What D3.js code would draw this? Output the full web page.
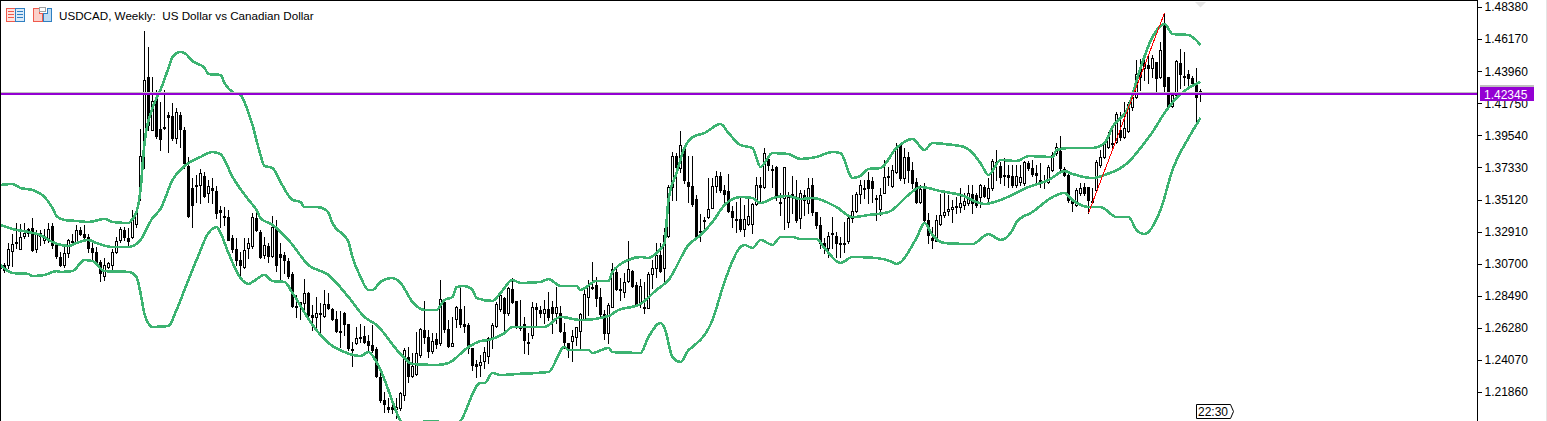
<!DOCTYPE html>
<html><head><meta charset="utf-8">
<script src="https://cdn.jsdelivr.net/npm/d3@7/dist/d3.min.js"></script>
<style>html,body{margin:0;padding:0;background:#fff;overflow:hidden}svg{display:block}text{font-family:"Liberation Sans",Arial,sans-serif}</style>
</head><body><div id="c"></div>
<script>
const title = "USDCAD, Weekly:  US Dollar vs Canadian Dollar";
const tickLabels = [1.4838,1.4617,1.4396,1.4175,1.3954,1.3733,1.3512,1.3291,1.3070,1.2849,1.2628,1.2407,1.2186];
const bidPrice = 1.42345, askPrice = 1.42385;
const bidLabel = "1.42345", timeLabel = "22:30";

const highs = [
1.3081,1.3074,1.3212,1.3274,1.3350,1.3343,1.3350,1.3316,1.3384,1.3302,
1.3302,1.3309,1.3350,1.3350,1.3219,1.3150,1.3185,1.3240,1.3274,1.3337,
1.3322,1.3337,1.3274,1.3212,1.3185,1.3095,1.3109,1.3081,1.3171,1.3254,
1.3322,1.3322,1.3316,1.3440,1.3453,1.3998,1.4673,1.4562,1.4356,1.4266,
1.4184,1.4266,1.4115,1.4177,1.4142,1.4115,1.4011,1.3805,1.3660,1.3681,
1.3722,1.3701,1.3646,1.3660,1.3605,1.3467,1.3460,1.3440,1.3267,1.3247,
1.3150,1.3247,1.3247,1.3419,1.3440,1.3302,1.3254,1.3212,1.3398,1.3371,
1.3212,1.3150,1.3109,1.3013,1.2854,1.2799,1.2964,1.2875,1.2785,1.2840,
1.2799,1.2889,1.2868,1.2765,1.2744,1.2744,1.2737,1.2654,1.2530,1.2634,
1.2654,1.2641,1.2578,1.2648,1.2496,1.2358,1.2186,1.2145,1.2117,1.2145,
1.2186,1.2489,1.2496,1.2455,1.2599,1.2627,1.2813,1.2613,1.2592,1.2592,
1.2957,1.2820,1.2682,1.2703,1.2778,1.2902,1.2778,1.2661,1.2489,1.2406,
1.2441,1.2496,1.2565,1.2661,1.2806,1.2868,1.2840,1.2909,1.2971,1.2813,
1.2820,1.2703,1.2592,1.2806,1.2799,1.2778,1.2820,1.2875,1.2813,1.2909,
1.2778,1.2661,1.2523,1.2613,1.2627,1.2730,1.2889,1.2957,1.3081,1.2978,
1.2902,1.2751,1.2799,1.3074,1.3040,1.2971,1.3006,1.3226,1.3026,1.2944,
1.2964,1.2944,1.3013,1.3095,1.3212,1.3212,1.3316,1.3612,1.3839,1.3832,
1.3984,1.3887,1.3812,1.3812,1.3543,1.3412,1.3391,1.3660,1.3660,1.3708,
1.3701,1.3612,1.3688,1.3467,1.3495,1.3522,1.3474,1.3529,1.3488,1.3667,
1.3667,1.3867,1.3819,1.3750,1.3743,1.3557,1.3557,1.3564,1.3674,1.3646,
1.3577,1.3577,1.3660,1.3660,1.3426,1.3391,1.3247,1.3288,1.3391,1.3288,
1.3254,1.3357,1.3391,1.3543,1.3564,1.3646,1.3646,1.3701,1.3667,1.3543,
1.3591,1.3784,1.3736,1.3750,1.3901,1.3901,1.3867,1.3839,1.3770,1.3660,
1.3612,1.3626,1.3419,1.3322,1.3405,1.3550,1.3557,1.3543,1.3509,1.3529,
1.3591,1.3557,1.3612,1.3612,1.3557,1.3619,1.3612,1.3660,1.3791,1.3853,
1.3770,1.3798,1.3750,1.3750,1.3750,1.3750,1.3777,1.3777,1.3784,1.3750,
1.3763,1.3681,1.3750,1.3839,1.3901,1.3949,1.3736,1.3695,1.3522,1.3591,
1.3626,1.3626,1.3577,1.3591,1.3784,1.3853,1.3908,1.3977,1.4025,1.4115,
1.4115,1.4184,1.4184,1.4246,1.4473,1.4480,1.4473,1.4507,1.4507,1.4459,
1.4597,1.4797,1.4356,1.4246,1.4473,1.4548,1.4528,1.4404,1.4363,1.4418,1.4273];

const lows = [
1.3026,1.3013,1.3040,1.3054,1.3178,1.3185,1.3247,1.3261,1.3157,1.3150,
1.3198,1.3212,1.3219,1.3178,1.3109,1.3054,1.3047,1.3116,1.3212,1.3212,
1.3267,1.3233,1.3150,1.3095,1.3074,1.2950,1.2957,1.3040,1.3033,1.3143,
1.3219,1.3233,1.3198,1.3247,1.3322,1.3509,1.3729,1.3991,1.3998,1.3936,
1.3853,1.3998,1.3839,1.3922,1.3901,1.3874,1.3729,1.3391,1.3322,1.3495,
1.3488,1.3529,1.3495,1.3488,1.3384,1.3322,1.3337,1.3247,1.3150,1.3061,
1.2992,1.3040,1.3109,1.3178,1.3295,1.3109,1.3109,1.3081,1.3116,1.3019,
1.2957,1.3006,1.2971,1.2772,1.2703,1.2689,1.2758,1.2709,1.2613,1.2634,
1.2586,1.2703,1.2758,1.2682,1.2599,1.2496,1.2578,1.2475,1.2365,1.2517,
1.2530,1.2523,1.2475,1.2461,1.2289,1.2117,1.2048,1.2048,1.2041,1.2007,
1.2062,1.2131,1.2255,1.2289,1.2303,1.2427,1.2523,1.2427,1.2455,1.2489,
1.2510,1.2599,1.2496,1.2516,1.2634,1.2634,1.2599,1.2455,1.2338,1.2289,
1.2296,1.2351,1.2386,1.2489,1.2634,1.2744,1.2606,1.2716,1.2799,1.2627,
1.2613,1.2455,1.2448,1.2558,1.2647,1.2702,1.2661,1.2682,1.2592,1.2661,
1.2599,1.2489,1.2427,1.2400,1.2510,1.2475,1.2702,1.2716,1.2895,1.2778,
1.2702,1.2551,1.2523,1.2771,1.2888,1.2819,1.2840,1.2944,1.2909,1.2785,
1.2771,1.2730,1.2765,1.2902,1.2978,1.3013,1.2944,1.3254,1.3509,1.3509,
1.3701,1.3626,1.3495,1.3467,1.3254,1.3226,1.3316,1.3384,1.3453,1.3564,
1.3564,1.3481,1.3426,1.3322,1.3288,1.3295,1.3260,1.3336,1.3281,1.3474,
1.3488,1.3591,1.3715,1.3598,1.3508,1.3405,1.3309,1.3322,1.3419,1.3357,
1.3316,1.3405,1.3419,1.3405,1.3316,1.3178,1.3143,1.3116,1.3178,1.3116,
1.3116,1.3150,1.3212,1.3357,1.3426,1.3488,1.3522,1.3488,1.3495,1.3371,
1.3405,1.3557,1.3612,1.3598,1.3694,1.3646,1.3626,1.3632,1.3591,1.3488,
1.3488,1.3357,1.3212,1.3178,1.3226,1.3336,1.3391,1.3405,1.3357,1.3419,
1.3426,1.3446,1.3474,1.3419,1.3460,1.3460,1.3529,1.3488,1.3577,1.3646,
1.3626,1.3612,1.3598,1.3598,1.3598,1.3612,1.3612,1.3715,1.3674,1.3612,
1.3598,1.3591,1.3626,1.3708,1.3818,1.3715,1.3674,1.3495,1.3433,1.3467,
1.3543,1.3543,1.3419,1.3495,1.3564,1.3736,1.3798,1.3867,1.3853,1.3901,
1.3922,1.3936,1.3977,1.4128,1.4211,1.4266,1.4335,1.4314,1.4356,1.4259,
1.4349,1.4259,1.4149,1.4149,1.4218,1.4280,1.4301,1.4280,1.4301,1.4025,1.4191];

const opens = [
1.3040,1.3061,1.3061,1.3157,1.3212,1.3171,1.3261,1.3309,1.3316,1.3171,
1.3281,1.3233,1.3240,1.3330,1.3198,1.3116,1.3061,1.3143,1.3226,1.3219,
1.3302,1.3274,1.3254,1.3178,1.3150,1.3081,1.2985,1.3047,1.3061,1.3150,
1.3233,1.3302,1.3247,1.3254,1.3343,1.3577,1.3895,1.4356,1.3991,1.4211,
1.3998,1.4011,1.4094,1.4087,1.3936,1.4094,1.3991,1.3743,1.3591,1.3605,
1.3612,1.3674,1.3557,1.3591,1.3570,1.3440,1.3398,1.3391,1.3247,1.3171,
1.3095,1.3047,1.3178,1.3192,1.3385,1.3288,1.3130,1.3192,1.3123,1.3316,
1.3136,1.3130,1.3088,1.2998,1.2778,1.2806,1.2799,1.2868,1.2716,1.2703,
1.2730,1.2710,1.2792,1.2758,1.2689,1.2606,1.2730,1.2654,1.2482,1.2523,
1.2558,1.2571,1.2537,1.2510,1.2482,1.2289,1.2131,1.2083,1.2083,1.2069,
1.2076,1.2165,1.2427,1.2296,1.2310,1.2441,1.2612,1.2565,1.2468,1.2551,
1.2523,1.2806,1.2620,1.2503,1.2689,1.2758,1.2654,1.2647,1.2489,1.2379,
1.2372,1.2400,1.2434,1.2558,1.2640,1.2758,1.2833,1.2730,1.2895,1.2813,
1.2634,1.2654,1.2530,1.2578,1.2771,1.2751,1.2730,1.2757,1.2771,1.2730,
1.2730,1.2599,1.2523,1.2537,1.2565,1.2606,1.2689,1.2840,1.2909,1.2923,
1.2840,1.2723,1.2592,1.2772,1.3013,1.2895,1.2875,1.2951,1.3019,1.2923,
1.2806,1.2765,1.2764,1.2999,1.3040,1.3130,1.3040,1.3261,1.3598,1.3812,
1.3729,1.3874,1.3633,1.3605,1.3516,1.3295,1.3371,1.3391,1.3453,1.3605,
1.3674,1.3578,1.3570,1.3433,1.3378,1.3378,1.3309,1.3343,1.3343,1.3481,
1.3612,1.3598,1.3791,1.3722,1.3736,1.3495,1.3522,1.3357,1.3543,1.3529,
1.3385,1.3543,1.3488,1.3612,1.3426,1.3336,1.3212,1.3178,1.3281,1.3260,
1.3212,1.3212,1.3226,1.3385,1.3433,1.3550,1.3591,1.3646,1.3639,1.3522,
1.3447,1.3557,1.3667,1.3605,1.3701,1.3887,1.3660,1.3805,1.3715,1.3632,
1.3495,1.3584,1.3371,1.3247,1.3226,1.3343,1.3405,1.3433,1.3447,1.3460,
1.3460,1.3474,1.3488,1.3550,1.3543,1.3530,1.3598,1.3522,1.3591,1.3770,
1.3743,1.3680,1.3680,1.3674,1.3612,1.3633,1.3625,1.3763,1.3729,1.3694,
1.3646,1.3639,1.3633,1.3715,1.3833,1.3846,1.3722,1.3681,1.3508,1.3474,
1.3557,1.3598,1.3598,1.3502,1.3577,1.3750,1.3805,1.3874,1.3901,1.3908,
1.3991,1.3943,1.3984,1.4149,1.4218,1.4418,1.4418,1.4438,1.4418,1.4459,
1.4356,1.4728,1.4356,1.4156,1.4232,1.4452,1.4363,1.4376,1.4349,1.4301,1.4259];

const closes = [
1.3067,1.3026,1.3171,1.3205,1.3219,1.3254,1.3281,1.3281,1.3164,1.3281,
1.3260,1.3261,1.3309,1.3198,1.3123,1.3061,1.3143,1.3233,1.3219,1.3302,
1.3274,1.3254,1.3178,1.3150,1.3081,1.3006,1.3061,1.3074,1.3150,1.3226,
1.3309,1.3254,1.3226,1.3384,1.3426,1.3812,1.4335,1.4025,1.4190,1.3950,
1.3929,1.4011,1.4080,1.3936,1.4115,1.3998,1.3763,1.3398,1.3474,1.3612,
1.3694,1.3536,1.3605,1.3577,1.3419,1.3426,1.3391,1.3233,1.3171,1.3095,
1.3061,1.3164,1.3212,1.3392,1.3302,1.3116,1.3198,1.3123,1.3322,1.3061,
1.3116,1.3095,1.2985,1.2778,1.2771,1.2792,1.2868,1.2716,1.2703,1.2730,
1.2723,1.2792,1.2765,1.2689,1.2606,1.2606,1.2654,1.2489,1.2482,1.2558,
1.2565,1.2530,1.2510,1.2475,1.2296,1.2131,1.2103,1.2069,1.2069,1.2083,
1.2179,1.2475,1.2296,1.2365,1.2455,1.2620,1.2565,1.2468,1.2537,1.2516,
1.2826,1.2620,1.2503,1.2523,1.2772,1.2654,1.2640,1.2489,1.2372,1.2365,
1.2393,1.2461,1.2558,1.2647,1.2792,1.2854,1.2730,1.2902,1.2806,1.2634,
1.2627,1.2544,1.2530,1.2771,1.2757,1.2730,1.2757,1.2703,1.2730,1.2771,
1.2606,1.2530,1.2475,1.2571,1.2634,1.2723,1.2861,1.2916,1.2902,1.2833,
1.2723,1.2592,1.2785,1.3033,1.2895,1.2888,1.2944,1.3033,1.2916,1.2792,
1.2916,1.2771,1.2999,1.3040,1.3130,1.3019,1.3267,1.3598,1.3812,1.3736,
1.3887,1.3646,1.3605,1.3481,1.3255,1.3295,1.3364,1.3447,1.3605,1.3674,
1.3578,1.3550,1.3433,1.3391,1.3371,1.3309,1.3378,1.3398,1.3481,1.3612,
1.3598,1.3833,1.3750,1.3715,1.3529,1.3495,1.3736,1.3529,1.3550,1.3371,
1.3557,1.3510,1.3591,1.3426,1.3336,1.3212,1.3185,1.3260,1.3281,1.3212,
1.3205,1.3212,1.3385,1.3433,1.3550,1.3612,1.3591,1.3591,1.3591,1.3522,
1.3543,1.3667,1.3674,1.3716,1.3873,1.3660,1.3805,1.3715,1.3626,1.3495,
1.3584,1.3371,1.3267,1.3233,1.3371,1.3405,1.3426,1.3447,1.3460,1.3467,
1.3488,1.3502,1.3557,1.3488,1.3474,1.3612,1.3536,1.3591,1.3777,1.3757,
1.3667,1.3674,1.3667,1.3612,1.3674,1.3666,1.3770,1.3729,1.3688,1.3681,
1.3646,1.3632,1.3736,1.3819,1.3874,1.3729,1.3681,1.3510,1.3488,1.3578,
1.3591,1.3557,1.3509,1.3502,1.3770,1.3805,1.3901,1.3943,1.3901,1.4101,
1.3942,1.4004,1.4170,1.4218,1.4377,1.4356,1.4452,1.4418,1.4487,1.4349,
1.4542,1.4294,1.4156,1.4232,1.4466,1.4376,1.4356,1.4349,1.4314,1.4218,1.4245];

const upperIdx = [0,3,5,8,11,13,14,16,19,22,26,28,32,33,34,35,36,38,40,42,43,45,46,48,51,52,55,56,58,60,62,63,65,66,68,70,73,75,76,79,81,82,83,87,88,90,92,93,95,98,100,103,106,109,111,113,114,116,118,119,123,125,128,130,135,137,140,144,145,149,152,153,157,160,162,164,166,167,169,171,173,176,180,182,185,188,190,193,197,200,204,208,210,213,215,217,220,224,228,231,233,236,241,243,245,247,250,254,257,263,264,267,273,276,278,282,285,288,291,293,297,300];
const upperVal = [1.3612,1.3619,1.3591,1.3577,1.3529,1.3453,1.3398,1.3371,1.3364,1.3357,1.3378,1.3357,1.3350,1.3378,1.3426,1.3577,1.3901,1.4142,1.4266,1.4418,1.4494,1.4528,1.4521,1.4466,1.4418,1.4376,1.4370,1.4314,1.4252,1.4232,1.4108,1.4025,1.3819,1.3743,1.3729,1.3633,1.3509,1.3495,1.3460,1.3460,1.3447,1.3419,1.3350,1.3219,1.3116,1.2978,1.2889,1.2889,1.2944,1.2971,1.2937,1.2806,1.2751,1.2751,1.2820,1.2840,1.2909,1.2916,1.2889,1.2833,1.2813,1.2868,1.2957,1.2937,1.2944,1.2964,1.2916,1.2916,1.2889,1.2951,1.2951,1.3013,1.3095,1.3116,1.3109,1.3143,1.3212,1.3509,1.3695,1.3867,1.3942,1.3970,1.4032,1.3970,1.3887,1.3867,1.3736,1.3832,1.3825,1.3791,1.3805,1.3839,1.3832,1.3660,1.3674,1.3722,1.3729,1.3867,1.3929,1.3853,1.3901,1.3894,1.3873,1.3832,1.3763,1.3681,1.3784,1.3777,1.3811,1.3805,1.3853,1.3867,1.3867,1.3901,1.4011,1.4149,1.4418,1.4631,1.4721,1.4652,1.4645,1.4576];

const middleIdx = [0,3,7,10,13,17,19,22,24,28,32,35,38,40,43,47,50,53,55,58,62,64,65,68,72,77,82,87,91,94,100,103,109,112,117,120,122,126,128,136,140,145,152,154,160,164,167,172,175,178,181,185,188,190,194,197,200,203,209,213,217,222,227,230,235,240,246,250,257,262,266,268,273,276,282,285,288,291,294,297,300];
const middleVal = [1.3337,1.3309,1.3288,1.3267,1.3219,1.3192,1.3212,1.3233,1.3212,1.3185,1.3185,1.3233,1.3384,1.3447,1.3646,1.3763,1.3805,1.3839,1.3825,1.3667,1.3509,1.3440,1.3384,1.3337,1.3233,1.3061,1.2992,1.2840,1.2703,1.2648,1.2448,1.2379,1.2372,1.2386,1.2496,1.2537,1.2544,1.2592,1.2634,1.2634,1.2703,1.2682,1.2709,1.2744,1.2792,1.2889,1.2957,1.3199,1.3267,1.3357,1.3474,1.3529,1.3522,1.3488,1.3529,1.3536,1.3515,1.3522,1.3460,1.3391,1.3405,1.3426,1.3543,1.3598,1.3570,1.3543,1.3481,1.3509,1.3598,1.3646,1.3708,1.3688,1.3660,1.3681,1.3770,1.3867,1.3977,1.4108,1.4211,1.4280,1.4321];

const lowerIdx = [0,3,7,8,11,14,15,18,21,23,26,32,34,35,36,38,42,44,46,49,52,54,55,57,60,62,63,66,68,71,73,78,82,86,90,92,94,100,103,105,106,109,112,115,120,121,123,125,129,137,141,142,147,148,152,153,160,162,165,166,168,170,172,173,178,181,185,186,188,190,193,195,198,200,204,206,210,213,219,223,224,229,231,233,236,243,247,250,253,254,258,263,266,268,272,275,279,282,284,286,290,293,297,300];
const lowerVal = [1.3061,1.3006,1.2999,1.2985,1.2992,1.3019,1.3013,1.3019,1.3095,1.3088,1.3019,1.3013,1.2978,1.2868,1.2723,1.2634,1.2641,1.2751,1.2889,1.3095,1.3281,1.3322,1.3281,1.3143,1.2971,1.2930,1.2944,1.2992,1.2950,1.2944,1.2868,1.2648,1.2523,1.2461,1.2434,1.2461,1.2393,1.1986,1.1855,1.1938,1.1986,1.1986,1.1911,1.1986,1.2248,1.2248,1.2317,1.2303,1.2310,1.2324,1.2496,1.2475,1.2475,1.2455,1.2489,1.2461,1.2455,1.2565,1.2661,1.2627,1.2427,1.2393,1.2475,1.2496,1.2682,1.2944,1.3185,1.3199,1.3178,1.3233,1.3199,1.3254,1.3254,1.3240,1.3240,1.3178,1.3075,1.3116,1.3109,1.3081,1.3068,1.3247,1.3350,1.3267,1.3212,1.3205,1.3274,1.3233,1.3302,1.3357,1.3426,1.3529,1.3557,1.3509,1.3460,1.3460,1.3391,1.3391,1.3302,1.3274,1.3440,1.3715,1.3936,1.4073];

const trendFrom = 272, trendTo = 291;

const W = 1547, H = 421, plotR = 1477;
const x = d3.scaleLinear().domain([0, 1]).range([0.5, 4.5]);
const y = d3.scaleLinear().domain([1.4838, 1.2186]).range([7, 392]);
const py = v => Math.round(y(v));

const svg = d3.select("#c").append("svg").attr("width", W).attr("height", H).attr("viewBox", `0 0 ${W} ${H}`);
svg.append("rect").attr("width", W).attr("height", H).attr("fill", "#fff");
svg.append("defs").append("clipPath").attr("id", "plot").append("rect").attr("x", 0).attr("y", 0).attr("width", plotR).attr("height", H);

const plot = svg.append("g").attr("clip-path", "url(#plot)");

// candles
const candles = plot.append("g").attr("shape-rendering", "crispEdges");
highs.forEach((hi, i) => {
  const cx = Math.floor(x(i)) + 0.5;
  const up = closes[i] >= opens[i];
  const top = py(Math.max(opens[i], closes[i])), bot = py(Math.min(opens[i], closes[i]));
  candles.append("line").attr("x1", cx).attr("x2", cx).attr("y1", py(hi)).attr("y2", py(lows[i]) + 1).attr("stroke", "#000");
  candles.append("rect").attr("x", cx - 1).attr("y", top + 0.5).attr("width", 2).attr("height", Math.max(bot - top, 1))
    .attr("fill", up ? "#fff" : "#000").attr("stroke", "#000");
});

// bands
const lineGen = d3.line().x(d => x(d[0])).y(d => y(d[1])).curve(d3.curveMonotoneX);
[[upperIdx, upperVal], [middleIdx, middleVal], [lowerIdx, lowerVal]].forEach(([ix, vals]) => {
  plot.append("path").attr("d", lineGen(ix.map((d, i) => [d, vals[i]])))
    .attr("fill", "none").attr("stroke", "#3CB371").attr("stroke-width", 2.6).attr("shape-rendering", "crispEdges");
});

// trend line
plot.append("line").attr("x1", x(trendFrom)).attr("y1", y(lows[trendFrom])).attr("x2", x(trendTo)).attr("y2", y(highs[trendTo]))
  .attr("stroke", "#ff0000").attr("stroke-width", 1).attr("shape-rendering", "crispEdges");

// price lines
const lines = svg.append("g").attr("shape-rendering", "crispEdges");
lines.append("rect").attr("x", 0).attr("width", plotR).attr("y", py(askPrice) - 2).attr("height", 1).attr("fill", "#c0c0c0");
lines.append("rect").attr("x", 0).attr("width", plotR).attr("y", py(bidPrice) - 2).attr("height", 2).attr("fill", "#9400D3");

// frame
const frame = svg.append("g").attr("shape-rendering", "crispEdges");
frame.append("rect").attr("x", 0).attr("y", 0).attr("width", plotR + 1).attr("height", 1).attr("fill", "#000");
frame.append("rect").attr("x", 0).attr("y", 0).attr("width", 1).attr("height", H).attr("fill", "#000");
frame.append("rect").attr("x", plotR).attr("y", 0).attr("width", 1).attr("height", H).attr("fill", "#000");
frame.append("rect").attr("x", W - 1).attr("y", 0).attr("width", 1).attr("height", H).attr("fill", "#e4e4e4");

// axis via d3
const axis = d3.axisRight(y).tickValues(tickLabels).tickFormat(d3.format(".5f")).tickSize(4).tickPadding(3);
const ag = svg.append("g").attr("transform", `translate(${plotR + 0.5},0)`).call(axis);
ag.select(".domain").remove();
ag.selectAll("line").attr("stroke", "#000").attr("shape-rendering", "crispEdges");
ag.selectAll("text").attr("font-family", '"Liberation Sans",Arial,sans-serif').attr("font-size", 12).attr("fill", "#000");

// bid label
const lab = svg.append("g");
lab.append("rect").attr("x", 1480).attr("y", py(askPrice) - 9).attr("width", 54).attr("height", 2).attr("fill", "#c0c0c0").attr("shape-rendering", "crispEdges");
lab.append("rect").attr("x", 1480).attr("y", py(bidPrice) - 8).attr("width", 54).attr("height", 14).attr("fill", "#9400D3").attr("shape-rendering", "crispEdges");
lab.append("text").attr("x", 1484).attr("y", py(bidPrice) + 4).attr("font-size", 12).attr("fill", "#fff").text(bidLabel);

// title + icons
svg.append("text").attr("x", 59).attr("y", 20).attr("font-size", 11.65).attr("fill", "#000").attr("xml:space", "preserve").style("white-space", "pre").text(title);
const ic = svg.append("g").attr("shape-rendering", "crispEdges");
ic.append("rect").attr("x", 6.5).attr("y", 8.5).attr("width", 9).attr("height", 13).attr("fill", "#fde3df").attr("stroke", "#ef5a4c");
ic.append("rect").attr("x", 15.5).attr("y", 8.5).attr("width", 9).attr("height", 13).attr("fill", "#dbeaf8").attr("stroke", "#2f7fc1");
[11, 14, 17].forEach(v => {
  ic.append("rect").attr("x", 8).attr("y", v).attr("width", 6).attr("height", 1).attr("fill", "#ef5a4c");
  ic.append("rect").attr("x", 17).attr("y", v).attr("width", 6).attr("height", 1).attr("fill", "#2f7fc1");
});
ic.append("path").attr("d", "M33.5 8.5H39.5V13.5H42.5V21.5H33.5Z").attr("fill", "#fbd0ca").attr("stroke", "#ef5a4c");
ic.append("path").attr("d", "M47.5 8.5H51.5V21.5H43.5V13.5H47.5Z").attr("fill", "#bfdcf3").attr("stroke", "#2f7fc1");
ic.append("rect").attr("x", 39.5).attr("y", 7.5).attr("width", 6).attr("height", 4).attr("fill", "#fff").attr("stroke", "#a0a0a0");

// shift marker + time box
svg.append("path").attr("d", d3.line()([[1195, 2], [1206, 2], [1200.5, 7.5]])).attr("fill", "#e6e6e6");
const tg = svg.append("g");
tg.append("path").attr("d", d3.line()([[1196.5, 404.5], [1230.5, 404.5], [1233.5, 411.5], [1230.5, 418.5], [1196.5, 418.5]]) + "Z")
  .attr("fill", "#fff").attr("stroke", "#000");
tg.append("text").attr("x", 1198).attr("y", 416).attr("font-size", 12).attr("fill", "#000").text(timeLabel);
</script></body></html>
